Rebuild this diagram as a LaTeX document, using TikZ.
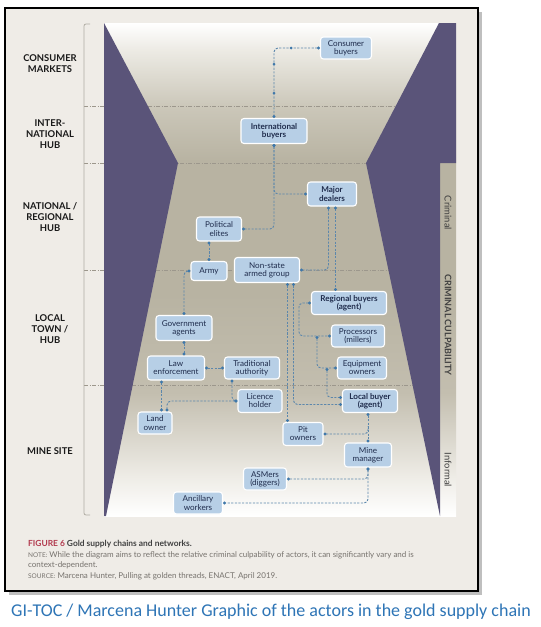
\documentclass[tikz,border=0pt]{standalone}
\usepackage{fontspec}
\setmainfont{Lato}
\newfontfamily\captionfont{Carlito}
\usetikzlibrary{arrows.meta, positioning, calc}

\definecolor{funnelpurple}{HTML}{5A5479}
\definecolor{framebg}{HTML}{EFECE7}
\definecolor{boxfill}{HTML}{B7CFE6}
\definecolor{boxtext}{HTML}{1F2C4C}
\definecolor{linkblue}{HTML}{5C87AC}
\definecolor{dotblue}{HTML}{3F78AA}
\definecolor{levelgray}{HTML}{9C978C}
\definecolor{figred}{HTML}{B23A4E}
\definecolor{notegray}{HTML}{77736E}
\definecolor{captionblue}{HTML}{2E75B6}
\definecolor{panelmid}{HTML}{B8B3A2}
\definecolor{panelhigh}{HTML}{CBC7B9}
\definecolor{panellow}{HTML}{C3BEAF}
\definecolor{panelfade}{HTML}{EEECE6}

\pgfdeclareverticalshading{funnelshade}{100bp}{color(0bp)=(white); color(25bp)=(white);
  color(29bp)=(panelfade); color(37.5bp)=(panellow); color(47.5bp)=(panelmid);
  color(61bp)=(panelmid); color(66.5bp)=(panelhigh); color(72.5bp)=(panelfade);
  color(75bp)=(white); color(100bp)=(white)}

\tikzset{
  actor/.style = {
    rectangle, rounded corners=3pt, draw=white, line width=1.1pt,
    fill=boxfill, text=boxtext, minimum height=22pt, inner sep=1.5pt,
    font=\fontsize{8.1}{8.1}\selectfont, align=center
  },
  keyactor/.style = {actor, font=\fontsize{8.1}{8.1}\selectfont\bfseries},
  linkbase/.style = {
    draw=linkblue, line width=0.9pt, dash pattern=on 2.2pt off 1.4pt,
    rounded corners=4pt
  },
  link/.style = {linkbase, {Circle[length=3pt,color=dotblue]}-{Circle[length=3pt,color=dotblue]}},
  feed/.style = {linkbase, {Circle[length=3pt,color=dotblue]}-},
  level/.style = {font=\fontsize{9.4}{11}\selectfont\bfseries, text=black!90, align=center},
  divider/.style = {draw=levelgray, line width=0.7pt, dash pattern=on 4pt off 1.5pt on 1pt off 1.5pt},
  culp/.style = {rotate=-90, font=\fontsize{9.4}{10}\selectfont, text=black!75}
}

\begin{document}
\begin{tikzpicture}[x=1pt, y=-1pt]

  \useasboundingbox (0,0) rectangle (541,627);
  \fill[white] (0,0) rectangle (541,627);

  % frame and funnel
  \fill[black!25] (9,12) rectangle (482,595);
  \fill[framebg] (5,8) rectangle (478,591);
  \draw[line width=2.6pt] (5,8) rectangle (478,591);
  \shade[shading=funnelshade] (104,23) rectangle (456,516);
  \foreach \y in {106,163,270,385}
    \draw[divider] (84,\y) -- (440,\y);
  \fill[funnelpurple] (104,23) -- (178,163) -- (106,516) -- (104,516) -- cycle;
  \fill[funnelpurple] (439,23) -- (456,23) -- (456,163) -- (440,163)
      -- (440,516) -- (366,163) -- cycle;
  \draw[levelgray!80, line width=0.8pt, rounded corners=2pt]
      (90,24) -- (84,24) -- (84,515) -- (90,515);

  \node[level] (consumerlvl) at (50,64)  {CONSUMER\\MARKETS};
  \node[level] (intllvl)     at (50,134) {INTER-\\NATIONAL\\HUB};
  \node[level] (natlvl)      at (50,217) {NATIONAL /\\REGIONAL\\HUB};
  \node[level] (locallvl)    at (50,329) {LOCAL\\TOWN /\\HUB};
  \node[level] (minelvl)     at (50,451) {MINE SITE};

  \node[culp] (crimlbl) at (448,213) {Criminal};
  \node[culp, font=\fontsize{9}{10}\selectfont\bfseries] (culplbl) at (448,325) {CRIMINAL CULPABILITY};
  \node[culp] (inflbl)  at (448,470) {Informal};

  \node[actor, minimum width=51pt]                        (consumer)   at (346,48)  {Consumer\\buyers};
  \node[keyactor, minimum width=66pt, minimum height=25pt] (intl)      at (274,131) {International\\buyers};
  \node[keyactor, minimum width=49pt, minimum height=24pt] (major)     at (332,194) {Major\\dealers};
  \node[actor, minimum width=45pt, minimum height=24pt]   (political)  at (219,229) {Political\\elites};
  \node[actor, minimum width=36pt, minimum height=19pt]   (army)       at (209,271) {Army};
  \node[actor, minimum width=65pt, minimum height=25pt]   (nonstate)   at (267,270) {Non-state\\armed group};
  \node[keyactor, minimum width=75pt, minimum height=23pt] (regional)  at (349,303) {Regional buyers\\(agent)};
  \node[actor, minimum width=53pt]                        (processors) at (358,336) {Processors\\(millers)};
  \node[actor, minimum width=49pt]                        (equipment)  at (362,368) {Equipment\\owners};
  \node[keyactor, minimum width=55pt, minimum height=23pt] (localbuyer) at (370,401) {Local buyer\\(agent)};
  \node[actor, minimum width=56pt, minimum height=25pt]   (govt)       at (184,328) {Government\\agents};
  \node[actor, minimum width=57pt, minimum height=24pt]   (law)        at (176,368) {Law\\enforcement};
  \node[actor, minimum width=55pt]                        (trad)       at (252,368) {Traditional\\authority};
  \node[actor, minimum width=44pt, minimum height=23pt]   (licence)    at (260,401) {Licence\\holder};
  \node[actor, minimum width=34pt]                        (land)       at (155,423) {Land\\owner};
  \node[actor, minimum width=40pt, minimum height=23pt]   (pit)        at (303,434) {Pit\\owners};
  \node[actor, minimum width=47pt, minimum height=24pt]   (mine)       at (368,455) {Mine\\manager};
  \node[actor, minimum width=43pt]                        (asmers)     at (265,479) {ASMers\\(diggers)};
  \node[actor, minimum width=49pt]                        (ancillary)  at (198,503) {Ancillary\\workers};

  \draw[link] (consumer.west) -| (intl.north);
  \foreach \p in {(291,48),(274,64),(274,93)}
    \fill[dotblue] \p circle (1.5);
  \draw[link] (intl.south) |- (major.west);
  \draw[link] (intl.south) |- (political.east);
  \draw[link] ([xshift=-3.5pt]major.south) |- (nonstate.east);
  \draw[link] ([xshift=3.5pt]major.south) -- ([xshift=3.5pt]major.south |- regional.north);
  \draw[link] (army.north |- political.south) -- (army.north);
  \draw[link] (army.west) -| (govt.north);
  \draw[link] (govt.south) -- (govt.south |- law.north);
  \draw[link] (law.east) -- (trad.west);
  \draw[link] ([xshift=-14.5pt]law.south) -- ([xshift=-14.5pt]law.south |- land.north);
  \draw[link] (licence.west) -| ([xshift=12pt]land.north);
  \draw[link] ([xshift=-20pt]trad.south) |- (licence.west);
  \draw[link] ([xshift=20.5pt]nonstate.south) -- ([xshift=20.5pt]nonstate.south |- pit.north);
  \draw[link] ([xshift=26.5pt]nonstate.south) |- ($(localbuyer.west)+(0,3.5)$);
  \draw[link] (regional.west) -- ++(-12,0) |- (processors.west);
  \draw[link] ($(processors.west)+(-14,0)$) |- (equipment.west);
  \draw[link] ($(equipment.west)+(-10,0)$) |- ($(localbuyer.west)+(0,-3.5)$);
  \draw[link] (mine.north |- localbuyer.south) -- (mine.north);
  \draw[feed] (pit.east) -| ($(mine.north)+(0,-16)$);
  \draw[link] (mine.south) |- (asmers.east);
  \draw[link] (mine.south) |- (ancillary.east);

  \node[anchor=base west, inner sep=0, font=\fontsize{8.4}{9}\selectfont\bfseries, text=black!75]
      (figcap) at (28,546) {\textcolor{figred}{FIGURE 6} Gold supply chains and networks.};
  \node[anchor=base west, inner sep=0, font=\fontsize{8}{9}\selectfont, text=notegray]
      (note) at (28,557) {{\fontsize{6.5}{7}\selectfont NOTE:} While the diagram aims to reflect the relative criminal culpability of actors, it can significantly vary and is};
  \node[anchor=base west, inner sep=0, font=\fontsize{8}{9}\selectfont, text=notegray]
      (notecont) at (28,567) {context-dependent.};
  \node[anchor=base west, inner sep=0, font=\fontsize{8}{9}\selectfont, text=notegray]
      (source) at (28,578) {{\fontsize{6.5}{7}\selectfont SOURCE:} Marcena Hunter, Pulling at golden threads, ENACT, April 2019.};

  \node[font={\captionfont\fontsize{18}{20}\selectfont}, text=captionblue] (credit) at (271,612)
      {GI-TOC / Marcena Hunter Graphic of the actors in the gold supply chain};

\end{tikzpicture}
\end{document}
